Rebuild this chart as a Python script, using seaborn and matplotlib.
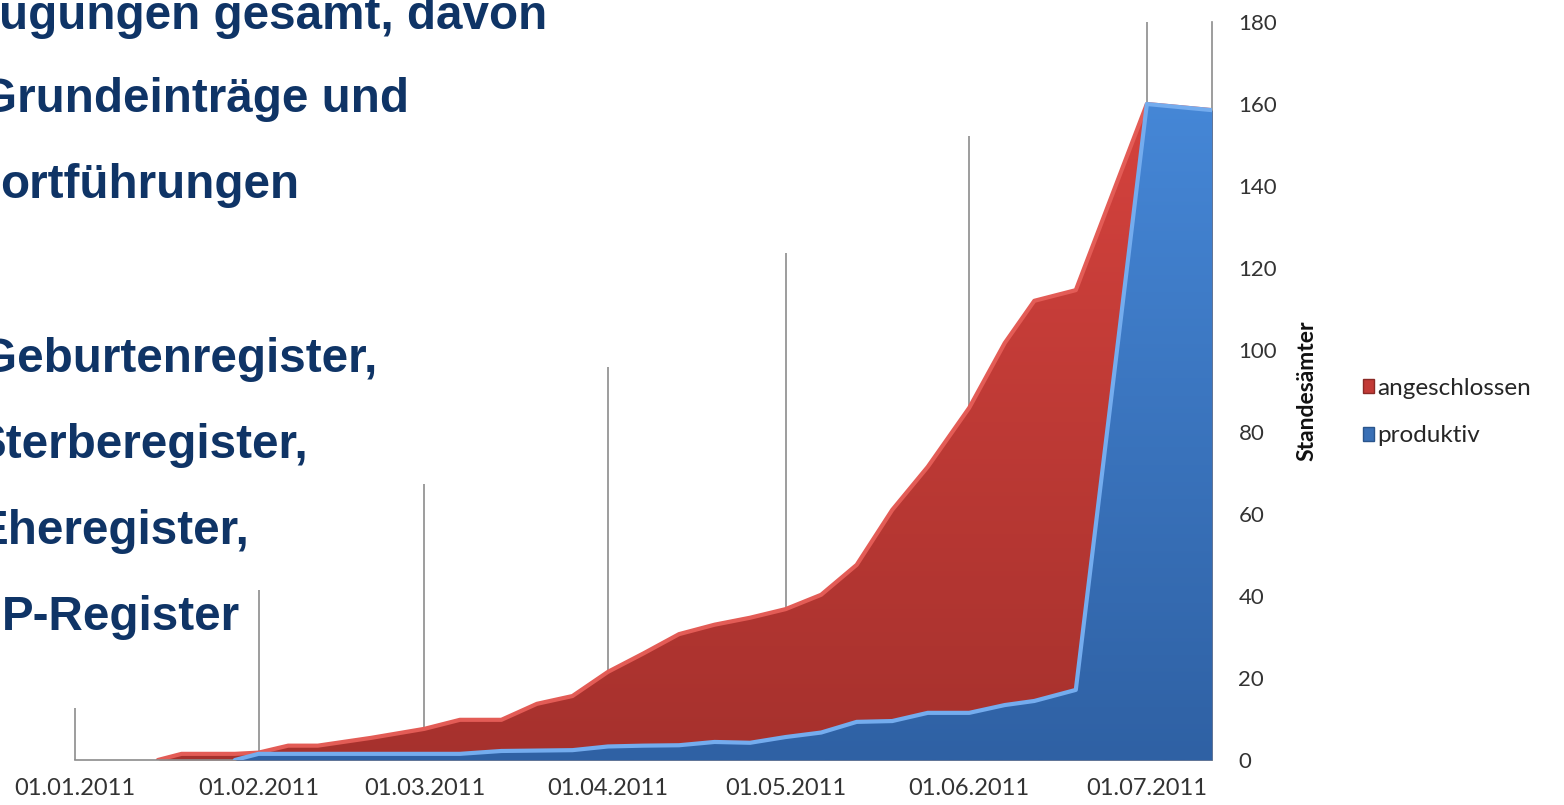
import matplotlib
matplotlib.use("Agg")
import matplotlib.pyplot as plt
import matplotlib.dates as mdates
from matplotlib.colors import LinearSegmentedColormap
from matplotlib.patches import Patch
import numpy as np
import pandas as pd
import seaborn as sns

# ── Data ──────────────────────────────────────────────────────────────────────
dates = pd.to_datetime([
    "2011-01-01", "2011-01-15", "2011-01-19", "2011-01-28", "2011-02-01",
    "2011-02-06", "2011-02-11", "2011-02-20", "2011-03-01", "2011-03-07",
    "2011-03-14", "2011-03-20", "2011-03-26", "2011-04-01", "2011-04-07",
    "2011-04-13", "2011-04-19", "2011-04-25", "2011-05-01", "2011-05-07",
    "2011-05-13", "2011-05-19", "2011-05-25", "2011-06-01", "2011-06-07",
    "2011-06-12", "2011-06-19", "2011-07-01", "2011-07-12",
])
angeschlossen = [0, 0, 1.5, 1.5, 1.8, 3.5, 3.5, 5.4, 7.6, 9.8,
                 9.8, 13.7, 15.6, 21.5, 26.0, 30.7, 33.0, 34.7, 36.8, 40.3,
                 47.6, 61.0, 71.5, 85.9, 101.7, 112.0, 114.6, 160.0, 158.5]
produktiv = [0, 0, 0, 0, 1.5, 1.5, 1.5, 1.5, 1.5, 1.5,
             2.2, 2.3, 2.4, 3.3, 3.5, 3.6, 4.4, 4.2, 5.6, 6.7,
             9.3, 9.5, 11.5, 11.5, 13.4, 14.4, 17.1, 160.0, 158.5]

month_ticks = pd.date_range("2011-01-01", "2011-07-01", freq="MS")
y_ticks = list(range(0, 181, 20))

text_lines = [
    ("ugungen gesamt, davon", -1, 29),
    ("Grundeinträge und", -20, 112),
    ("ortführungen", 0, 198),
    ("Geburtenregister,", -20, 372),
    ("Sterberegister,", -25, 458),
    ("Eheregister,", -23, 544),
    ("P-Register", 2, 630),
]

# ── Style ─────────────────────────────────────────────────────────────────────
RED_TOP, RED_BOT, RED_EDGE = "#d6433e", "#a6312d", "#e35c56"
BLUE_TOP, BLUE_BOT, BLUE_EDGE = "#4688d8", "#2f61a4", "#74acee"
NAVY = "#0f3466"
GRAY = "#8c8c8c"

sns.set_theme(style="white")
plt.rcParams["font.family"] = ["Lato", "DejaVu Sans"]

W, H = 1564, 805
fig = plt.figure(figsize=(W / 100, H / 100), dpi=100)
ax = fig.add_axes([75 / W, 1 - 760 / H, (1212 - 75) / W, (760 - 22) / H])

df = pd.DataFrame({"Datum": dates, "angeschlossen": angeschlossen,
                   "produktiv": produktiv})


def gradient_area(col, c_top, c_bot, edge, z):
    """Area under df[col] with a vertical colour gradient and a light top edge."""
    poly = ax.fill_between(df["Datum"], df[col], color=c_bot, lw=0, zorder=z)
    xn = mdates.date2num(df["Datum"])
    grad = np.linspace(0, 1, 256).reshape(-1, 1)
    cmap = LinearSegmentedColormap.from_list(col, [c_bot, c_top])
    im = ax.imshow(grad, cmap=cmap, aspect="auto", origin="lower",
                   extent=[xn.min(), xn.max(), 0, 165], zorder=z,
                   interpolation="bilinear")
    im.set_clip_path(poly.get_paths()[0], transform=ax.transData)
    start = max(int(np.argmax(df[col].values > 0)) - 1, 0)
    sns.lineplot(data=df.iloc[start:], x="Datum", y=col,
                 color=edge, lw=3, ax=ax, zorder=z + 0.5)


# vertical month lines, cut off along a diagonal as in the slide
days = (month_ticks - month_ticks[0]).days.values
grid_top = 12.7 + (180 - 12.7) * days / 181
ax.vlines(month_ticks, 0, grid_top, color=GRAY, lw=1.2, zorder=1, clip_on=False)

# overlapping areas, blue in front
gradient_area("angeschlossen", RED_TOP, RED_BOT, RED_EDGE, 2)
gradient_area("produktiv", BLUE_TOP, BLUE_BOT, BLUE_EDGE, 4)

# axes
ax.set_xlim(dates[0], dates[-1])
ax.set_ylim(0, 180)
ax.set_xticks(month_ticks)
ax.xaxis.set_major_formatter(mdates.DateFormatter("%d.%m.%Y"))
ax.set_yticks(y_ticks)
ax.yaxis.tick_right()
ax.tick_params(axis="x", length=0, pad=13, labelsize=17, labelcolor="#333333")
ax.tick_params(axis="y", length=0, pad=19, labelsize=16, labelcolor="#333333")
ax.set_xlabel("")
ax.set_ylabel("Standesämter", fontsize=16.5, fontweight="bold", color="#111111")
ax.yaxis.set_label_position("right")
ax.yaxis.set_label_coords(1.074, 0.5)

for side in ("left", "top"):
    ax.spines[side].set_visible(False)
for side in ("bottom", "right"):
    ax.spines[side].set_color(GRAY)
    ax.spines[side].set_linewidth(1.2)
ax.set_facecolor("none")
ax.grid(False)

handles = [Patch(facecolor="#c23a36", edgecolor="#8a2a26", label="angeschlossen"),
           Patch(facecolor="#3a70b6", edgecolor="#2a558c", label="produktiv")]
fig.legend(handles=handles, loc="upper left",
           bbox_to_anchor=(1353 / W, 1 - 368 / H), frameon=False,
           fontsize=17.5, handlelength=0.45, handleheight=0.5,
           handletextpad=0.15, labelspacing=1.1, borderaxespad=0)

for s, x, base in text_lines:
    fig.text(x / W, 1 - base / H, s, va="baseline", ha="left",
             fontsize=34.3, fontweight="bold", color=NAVY,
             family=["Liberation Sans", "DejaVu Sans"])

fig.savefig("out.png", dpi=100)
